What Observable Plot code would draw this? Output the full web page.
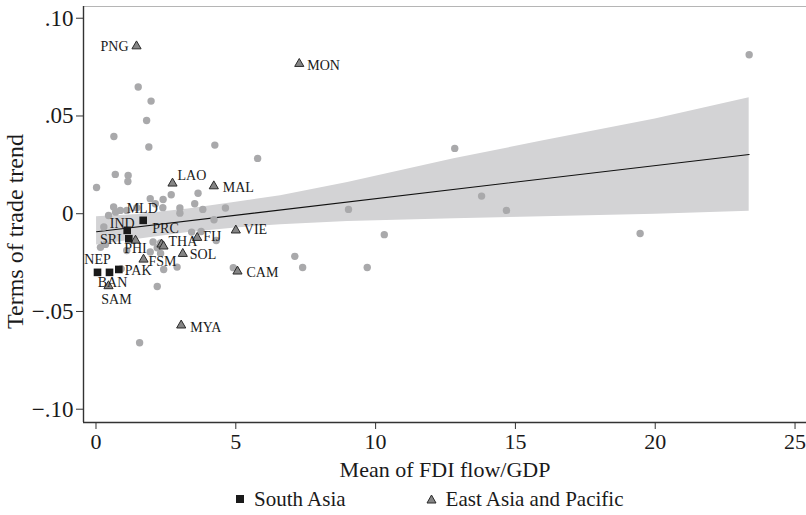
<!DOCTYPE html>
<html><head><meta charset="utf-8">
<script src="https://cdn.jsdelivr.net/npm/d3@7"></script>
<script src="https://cdn.jsdelivr.net/npm/@observablehq/plot@0.6"></script>
<style>
body{margin:0;background:#fff;}
#wrap{position:relative;width:806px;height:515px;font-family:"Liberation Serif","Times New Roman",serif;color:#1a1a1a;}
#legend{position:absolute;left:236px;top:485px;height:28px;display:flex;align-items:center;font-size:21px;white-space:nowrap;}
#legend .sq{display:inline-block;width:8px;height:8px;background:#1a1a1a;margin-right:10px;}
#legend .tri{display:inline-block;margin-left:80px;margin-right:9px;line-height:0;}
</style></head>
<body><div id="wrap"><div id="chart"></div>
<div id="legend"><span class="sq"></span><span>South Asia</span><span class="tri"><svg width="11" height="10"><path d="M5.5,1 L10,9 L1,9 Z" fill="#858585" stroke="#2a2a2a" stroke-width="1"/></svg></span><span>East Asia and Pacific</span></div>
</div>
<script>
// ---- data ----
const xTicks = [0, 5, 10, 15, 20, 25];
const yTicks = [-0.10, -0.05, 0, 0.05, 0.10];

// other countries (gray dots)
const otherX = [1.51,1.97,1.81,0.64,1.89,4.25,5.78,0.69,1.15,1.14,0.02,23.36,
  12.83,9.03,13.79,14.68,10.31,7.11,7.39,9.70,19.46,4.91,
  2.40,2.69,3.65,2.39,3.00,3.00,3.53,3.82,4.63,4.22,3.42,3.76,4.30,1.94,0.87,0.45,0.70,1.10,1.46,2.12,0.63,0.28,0.34,0.16,
  2.04,2.31,2.19,1.10,1.94,2.31,2.90,2.42,2.19,1.56,0.90];
const otherY = [0.0648,0.0576,0.0477,0.0395,0.0341,0.0351,0.0283,0.0201,0.0196,0.0165,0.0134,0.0813,
  0.0334,0.0022,0.0090,0.0017,-0.0107,-0.0218,-0.0275,-0.0275,-0.0101,-0.0276,
  0.0073,0.0097,0.0105,0.0031,0.0029,0.0003,0.0051,0.0022,0.0029,-0.0031,-0.0094,-0.0091,-0.0137,0.0077,0.0017,-0.0009,0.0008,0.0017,0.0031,0.0051,0.0034,-0.0068,-0.0157,-0.0172,
  -0.0145,-0.0150,-0.0174,-0.0188,-0.0196,-0.0203,-0.0273,-0.0285,-0.0372,-0.0660,-0.0282];

// South Asia
const saCodes = ["NEP","BAN","PAK","IND","SRI","MLD"];
const saX = [0.054,0.483,0.815,1.116,1.173,1.688];
const saY = [-0.0300,-0.0300,-0.0285,-0.0085,-0.0128,-0.0034];

// East Asia and Pacific
const eapCodes = ["PNG","MON","LAO","MAL","VIE","FIJ","PRC","THA","PHI","SOL","FSM","CAM","MYA","SAM"];
const eapX = [1.449,7.27,2.736,4.213,5.00,3.62,2.343,2.414,1.413,3.104,1.699,5.06,3.047,0.447];
const eapY = [0.0857,0.0767,0.0155,0.0141,-0.0085,-0.0123,-0.0157,-0.0167,-0.0137,-0.0205,-0.0234,-0.0295,-0.0571,-0.0370];

// fitted line and confidence band
const fitX = [0.02, 23.36];
const fitY = [-0.0092, 0.0303];
const bandX  = [0.02, 1.5, 3.3, 5.0, 6.6, 9.0, 12.8, 16.0, 20.0, 23.36];
const bandLo = [-0.0160,-0.0130,-0.0096,-0.0073,-0.0056,-0.0040,-0.0026,-0.0015,-0.0003,0.0012];
const bandHi = [-0.0015,-0.0004,0.0024,0.0059,0.0092,0.0160,0.0281,0.0373,0.0485,0.0593];

// marker-label placement relative to marker: [dx, dy, textAnchor]
const labelPlace = {
  PNG:[-8,0,"end"], MON:[8,2,"start"], LAO:[5,-8,"start"], MAL:[9,1,"start"], VIE:[8,-1,"start"],
  FIJ:[6,-1,"start"], PRC:[4,-16,"middle"], THA:[5,-5,"start"], PHI:[0,8,"middle"], SOL:[7,1,"start"],
  FSM:[5,2,"start"], CAM:[9,1,"start"], MYA:[9,2,"start"], SAM:[8,13,"middle"],
  NEP:[0,-13,"middle"], BAN:[3,10,"middle"], PAK:[6,1,"start"], IND:[-5,-7,"middle"],
  SRI:[-7,1,"end"], MLD:[-1,-12,"middle"]
};

// ---- build tables ----
const others = otherX.map((x,i)=>({x, y: otherY[i]}));
const sa = saCodes.map((c,i)=>({code:c, x: saX[i], y: saY[i]}));
const eap = eapCodes.map((c,i)=>({code:c, x: eapX[i], y: eapY[i]}));
const fit = fitX.map((x,i)=>({x, y: fitY[i]}));
const band = bandX.map((x,i)=>({x, lo: bandLo[i], hi: bandHi[i]}));
const labeled = [...sa, ...eap];

const xDomain = [-0.447, 25.41];
const yDomain = [-0.1068, 0.106];
const ink = "#1a1a1a";
const fmtY = d => d === 0 ? "0" : (d < 0 ? "\u2212" : "") + Math.abs(d).toFixed(2).slice(1);
const labelMarks = labeled.map(d => {
  const [dx, dy, anchor] = labelPlace[d.code] ?? [7, 0, "start"];
  return Plot.text([d], {x:"x", y:"y", text:"code", dx, dy, textAnchor: anchor, lineAnchor:"middle", fontSize:14, fill:ink});
});

const chart = Plot.plot({
  width: 806, height: 483,
  marginLeft: 83, marginRight: 0, marginTop: 6, marginBottom: 61,
  x: {domain: xDomain},
  y: {domain: yDomain},
  style: {fontFamily: "'Liberation Serif','Times New Roman',serif", fontSize: "21px", color: ink, background: "#fff", overflow: "visible"},
  marks: [
    Plot.areaY(band, {x:"x", y1:"lo", y2:"hi", fill:"#d3d3d5"}),
    Plot.line(fit, {x:"x", y:"y", stroke:"#111", strokeWidth:1.1}),
    Plot.dot(others, {x:"x", y:"y", r:3.7, fill:"#a9a9ab"}),
    Plot.dot(eap, {x:"x", y:"y", symbol:"triangle", r:3.4, fill:"#858585", stroke:"#2a2a2a", strokeWidth:1}),
    Plot.dot(sa, {x:"x", y:"y", symbol:"square", r:4.3, fill:ink}),
    ...labelMarks,
    Plot.ruleY([yDomain[1]], {stroke:"#b5b5b5", strokeWidth:1}),
    Plot.ruleX([xDomain[0]], {stroke:"#333", strokeWidth:1.4}),
    Plot.ruleY([yDomain[0]], {stroke:"#333", strokeWidth:1.4}),
    Plot.axisY({ticks: yTicks, tickFormat: fmtY, tickSize: 7, tickPadding: 3, label: null, stroke:"#333", fontSize: 23}),
    Plot.axisX({ticks: xTicks, tickFormat: d => String(d), tickSize: 7, tickPadding: 4, label: null, stroke:"#333", fontSize: 22}),
    Plot.text(["Terms of trade trend"], {frameAnchor:"left", dx:-68, dy:17, rotate:-90, textAnchor:"middle", lineAnchor:"middle", fontSize:24, fill:ink}),
    Plot.text(["Mean of FDI flow/GDP"], {frameAnchor:"bottom", dy:47, lineAnchor:"middle", fontSize:22, fill:ink})
  ]
});
document.getElementById("chart").appendChild(chart);
</script>
</body></html>
